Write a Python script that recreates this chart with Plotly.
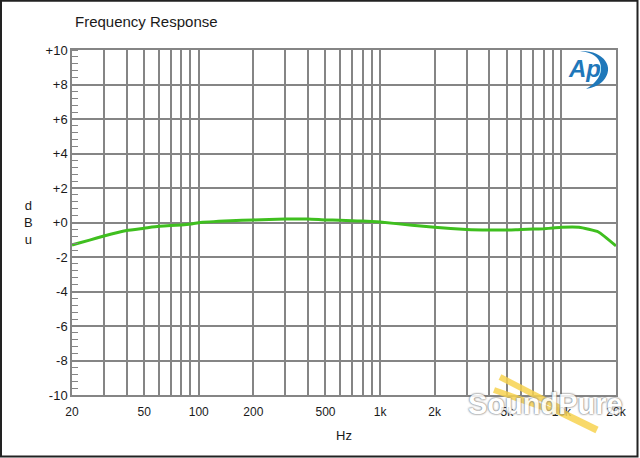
import math
import plotly.graph_objects as go

# ---- data ----
freq_hz = [20, 25, 30, 40, 50, 60, 70, 80, 90, 100, 150, 200, 300, 400, 500, 600, 700,
           800, 900, 1000, 1500, 2000, 3000, 4000, 5000, 6000, 7000, 8000, 9000, 10000,
           12500, 16000, 20000]
level_dbu = [-1.30, -1.02, -0.78, -0.46, -0.33, -0.22, -0.18, -0.14, -0.09, -0.01, 0.10,
             0.15, 0.20, 0.20, 0.15, 0.13, 0.10, 0.08, 0.06, 0.03, -0.16, -0.28, -0.41,
             -0.44, -0.44, -0.40, -0.38, -0.36, -0.32, -0.28, -0.28, -0.55, -1.36]

grid_freqs = ([20, 30, 40, 50, 60, 70, 80, 90, 100] +
              [200, 300, 400, 500, 600, 700, 800, 900, 1000] +
              [2000, 3000, 4000, 5000, 6000, 7000, 8000, 9000, 10000, 20000])
labels_map = {20: "20", 50: "50", 100: "100", 200: "200", 500: "500", 1000: "1k",
              2000: "2k", 5000: "5k", 10000: "10k", 20000: "20k"}
x_ticktext = [labels_map.get(f, "") for f in grid_freqs]
y_tickvals = [10, 8, 6, 4, 2, 0, -2, -4, -6, -8, -10]
y_ticktext = ["+10", "+8", "+6", "+4", "+2", "+0", "-2", "-4", "-6", "-8", "-10"]

# ---- layout geometry (pixels) ----
W, H = 640, 458
L, R, T, B = 72, 616, 50, 395


def px(x):
    return (x - L) / (R - L)


def py(y):
    return (B - y) / (B - T)


FONT = "Liberation Sans, Arial, sans-serif"
GRID = "#858585"

fig = go.Figure()
fig.add_trace(go.Scatter(x=freq_hz, y=level_dbu, mode="lines",
                         line=dict(color="#3fbf1f", width=3, shape="spline", smoothing=0.4),
                         hoverinfo="x+y", showlegend=False))

fig.update_layout(
    width=W, height=H,
    margin=dict(l=L, r=W - R, t=T, b=H - B),
    paper_bgcolor="white", plot_bgcolor="white",
    font=dict(family=FONT, color="#1a1a1a"),
    showlegend=False,
    xaxis=dict(type="log", range=[math.log10(20), math.log10(20000)],
               tickmode="array", tickvals=grid_freqs, ticktext=x_ticktext,
               showgrid=True, gridcolor=GRID, gridwidth=1.5,
               showline=True, linecolor=GRID, linewidth=1.5, mirror=True,
               ticks="", ticklabelstandoff=5,
               tickfont=dict(size=12, family=FONT), zeroline=False),
    yaxis=dict(range=[-10, 10], tickmode="array", tickvals=y_tickvals, ticktext=y_ticktext,
               showgrid=True, gridcolor=GRID, gridwidth=1.5,
               showline=True, linecolor=GRID, linewidth=1.5, mirror=True,
               ticks="", tickfont=dict(size=13, family=FONT), zeroline=False,
               minor=dict(tickmode="linear", tick0=-10, dtick=0.4, ticks="inside", ticklen=6,
                          tickcolor=GRID, tickwidth=1, showgrid=False)),
)

ann = []
ann.append(dict(text="Frequency Response", x=px(73), y=py(22), xref="paper", yref="paper",
                xanchor="left", yanchor="middle", showarrow=False,
                font=dict(size=15, family=FONT, color="#1a1a1a")))
ann.append(dict(text="Hz", x=px(344), y=py(435), xref="paper", yref="paper",
                xanchor="center", yanchor="middle", showarrow=False,
                font=dict(size=13, family=FONT, color="#1a1a1a")))
ann.append(dict(text="d<br>B<br>u", x=px(28), y=py(222), xref="paper", yref="paper",
                xanchor="center", yanchor="middle", showarrow=False,
                font=dict(size=13, family=FONT, color="#1a1a1a")))
# AP logo
ann.append(dict(text="<b><i>Ap</i></b>", x=px(584), y=py(68), xref="paper", yref="paper",
                xanchor="center", yanchor="middle", showarrow=False,
                font=dict(size=24, family="Liberation Sans, Arial", color="#1f78ba")))
# SoundPure watermark
ann.append(dict(text="<b>SoundPure</b>", x=px(545), y=py(404), xref="paper", yref="paper",
                xanchor="center", yanchor="middle", showarrow=False, opacity=0.85,
                font=dict(size=29, family="Liberation Sans Narrow, Liberation Sans, Arial",
                          color="white",
                          shadow="0px 0px 2px #6a6a6a, 0px 0px 2px #6a6a6a")))
fig.update_layout(annotations=ann)

shapes = []
# outer frame
shapes.append(dict(type="rect", xref="paper", yref="paper",
                   x0=px(1), x1=px(637.5), y0=py(0.8), y1=py(456.5),
                   line=dict(color="#222222", width=2), fillcolor="rgba(0,0,0,0)", layer="above"))
# AP swoosh (crescent)
pts = [(580, 51), (603, 50), (616, 67), (603, 81), (598, 86), (592, 88), (586, 89),
       (597, 83), (606, 71), (598, 59), (594, 54), (588, 52), (580, 51)]
path = "M {},{} ".format(px(pts[0][0]), py(pts[0][1]))
for i in range(1, len(pts), 3):
    seg = pts[i:i + 3]
    path += "C " + " ".join("{},{}".format(px(a), py(b)) for a, b in seg) + " "
path += "Z"
shapes.append(dict(type="path", xref="paper", yref="paper", path=path,
                   fillcolor="#1f78ba", line=dict(width=0), layer="above"))
# tuning fork
fork = "rgba(247,210,80,0.85)"
shapes.append(dict(type="line", xref="paper", yref="paper", x0=px(500), y0=py(377),
                   x1=px(560), y1=py(408), line=dict(color=fork, width=6), layer="above"))
shapes.append(dict(type="line", xref="paper", yref="paper", x0=px(494), y0=py(390),
                   x1=px(556), y1=py(412), line=dict(color=fork, width=6), layer="above"))
shapes.append(dict(type="line", xref="paper", yref="paper", x0=px(556), y0=py(410),
                   x1=px(597), y1=py(430), line=dict(color=fork, width=7), layer="above"))
fig.update_layout(shapes=shapes)

fig.write_html("out.html")
